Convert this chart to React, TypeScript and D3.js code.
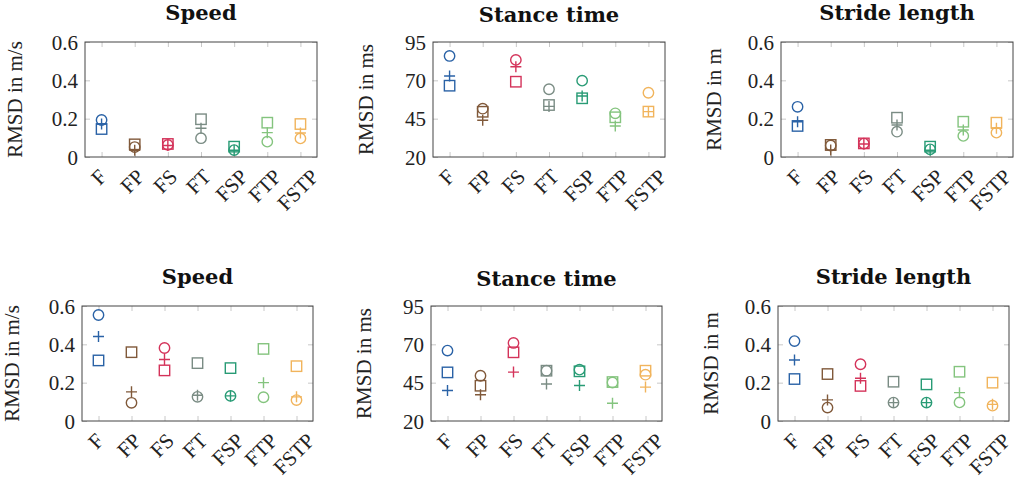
import { useEffect, useRef } from "react";
import * as d3 from "d3";

// categories on the x axis of every panel
const categories = ["F", "FP", "FS", "FT", "FSP", "FTP", "FSTP"];

// top row
const speedTopCircle = [0.193, 0.052, 0.063, 0.098, 0.036, 0.08, 0.097];
const speedTopPlus = [0.172, 0.035, 0.06, 0.15, 0.035, 0.127, 0.125];
const speedTopSquare = [0.146, 0.066, 0.068, 0.197, 0.054, 0.179, 0.172];

const stanceTopCircle = [85.9, 51.5, 83.3, 64.2, 69.8, 48.5, 61.9];
const stanceTopPlus = [72.8, 44.0, 78.9, 53.0, 59.8, 40.2, 49.6];
const stanceTopSquare = [66.5, 49.5, 69.1, 53.9, 58.3, 45.9, 49.6];

const strideTopCircle = [0.262, 0.06, 0.07, 0.132, 0.04, 0.11, 0.127];
const strideTopPlus = [0.184, 0.036, 0.068, 0.167, 0.035, 0.141, 0.15];
const strideTopSquare = [0.162, 0.063, 0.071, 0.205, 0.054, 0.184, 0.179];

// bottom row
const speedBottomCircle = [0.553, 0.095, 0.381, 0.126, 0.131, 0.124, 0.109];
const speedBottomPlus = [0.441, 0.152, 0.321, 0.134, 0.131, 0.2, 0.126];
const speedBottomSquare = [0.316, 0.359, 0.264, 0.302, 0.276, 0.376, 0.286];

const stanceBottomCircle = [65.9, 49.5, 70.9, 52.8, 53.5, 45.1, 50.2];
const stanceBottomPlus = [39.9, 37.1, 51.9, 44.1, 43.2, 31.6, 42.1];
const stanceBottomSquare = [51.7, 43.0, 64.8, 52.8, 52.4, 45.4, 52.8];

const strideBottomCircle = [0.417, 0.07, 0.296, 0.096, 0.096, 0.097, 0.08];
const strideBottomPlus = [0.318, 0.11, 0.223, 0.096, 0.096, 0.148, 0.087];
const strideBottomSquare = [0.219, 0.245, 0.183, 0.205, 0.191, 0.257, 0.2];

// y ticks
const metreTicks = [0, 0.2, 0.4, 0.6];
const msTicks = [20, 45, 70, 95];

// one colour per category
const colors = [
	"#2a62a6",
	"#80593a",
	"#d4335a",
	"#7a8c84",
	"#289b75",
	"#84c47e",
	"#f1b45c",
];

const W = 1017;
const H = 483;
const serif = "'Liberation Serif', 'Times New Roman', serif";
const titleFont = "'DejaVu Serif', serif";

interface Panel {
	title: string;
	ylabel: string;
	ticks: number[];
	circle: number[];
	plus: number[];
	square: number[];
	left: number;
	top: number;
	width: number;
	height: number;
}

const panels: Panel[] = [
	{ title: "Speed", ylabel: "RMSD in m/s", ticks: metreTicks, circle: speedTopCircle, plus: speedTopPlus, square: speedTopSquare, left: 85, top: 42, width: 232, height: 115 },
	{ title: "Stance time", ylabel: "RMSD in ms", ticks: msTicks, circle: stanceTopCircle, plus: stanceTopPlus, square: stanceTopSquare, left: 433, top: 42, width: 232, height: 115 },
	{ title: "Stride length", ylabel: "RMSD in m", ticks: metreTicks, circle: strideTopCircle, plus: strideTopPlus, square: strideTopSquare, left: 781, top: 42, width: 232, height: 115 },
	{ title: "Speed", ylabel: "RMSD in m/s", ticks: metreTicks, circle: speedBottomCircle, plus: speedBottomPlus, square: speedBottomSquare, left: 82, top: 306, width: 231, height: 115 },
	{ title: "Stance time", ylabel: "RMSD in ms", ticks: msTicks, circle: stanceBottomCircle, plus: stanceBottomPlus, square: stanceBottomSquare, left: 431, top: 306, width: 231, height: 115 },
	{ title: "Stride length", ylabel: "RMSD in m", ticks: metreTicks, circle: strideBottomCircle, plus: strideBottomPlus, square: strideBottomSquare, left: 778, top: 306, width: 231, height: 115 },
];

const hasDescender = (s: string) => /[gjpqy\/]/.test(s);

function drawPanel(svg: d3.Selection<SVGSVGElement, unknown, null, undefined>, p: Panel) {
	const x = d3
		.scaleLinear()
		.domain([-0.5, categories.length - 0.5])
		.range([p.left, p.left + p.width]);
	const y = d3
		.scaleLinear()
		.domain([p.ticks[0], p.ticks[p.ticks.length - 1]])
		.range([p.top + p.height, p.top]);

	const g = svg.append("g");
	const idx = categories.map((_, i) => i);
	const tickLen = 5;
	const tickColor = "#c8c8c8";

	// inward ticks on all four sides
	const left = g
		.append("g")
		.attr("transform", `translate(${p.left},0)`)
		.call(
			d3
				.axisLeft(y)
				.tickValues(p.ticks)
				.tickSize(-tickLen)
				.tickPadding(7)
				.tickFormat((d) => String(d)),
		);
	const right = g
		.append("g")
		.attr("transform", `translate(${p.left + p.width},0)`)
		.call(d3.axisRight(y).tickValues(p.ticks).tickSize(-tickLen).tickFormat(() => ""));
	const top = g
		.append("g")
		.attr("transform", `translate(0,${p.top})`)
		.call(d3.axisTop(x).tickValues(idx).tickSize(-tickLen).tickFormat(() => ""));
	const bottom = g
		.append("g")
		.attr("transform", `translate(0,${p.top + p.height})`)
		.call(d3.axisBottom(x).tickValues(idx).tickSize(-tickLen).tickFormat(() => ""));

	[left, right, top, bottom].forEach((a) => {
		a.select(".domain").remove();
		a.selectAll(".tick line").attr("stroke", tickColor).attr("stroke-width", 1);
	});
	left
		.selectAll(".tick text")
		.attr("font-family", serif)
		.attr("font-size", 21)
		.attr("fill", "#222")
		.attr("dy", "0.34em");
	left.attr("font-family", null).attr("font-size", null);

	// frame
	g.append("rect")
		.attr("x", p.left)
		.attr("y", p.top)
		.attr("width", p.width)
		.attr("height", p.height)
		.attr("fill", "none")
		.attr("stroke", "#444")
		.attr("stroke-width", 1);

	// rotated category labels, kept inside the page
	const labelTop = p.top + p.height + 11;
	g.selectAll("text.cat")
		.data(categories)
		.enter()
		.append("text")
		.attr("class", "cat")
		.attr("font-family", serif)
		.attr("font-size", 21)
		.attr("fill", "#222")
		.attr("text-anchor", "middle")
		.attr("dominant-baseline", "central")
		.text((d) => d)
		.each(function (_, i) {
			const el = this as SVGTextElement;
			const w = el.getComputedTextLength();
			const box = el.getBBox();
			const half = 0.354 * (w + box.height);
			const cx = Math.min(x(i) - 2.5, W - half - 1);
			const cy = labelTop + 0.354 * (w + 14);
			d3.select(this)
				.attr("x", cx)
				.attr("y", cy)
				.attr("transform", `rotate(-45,${cx},${cy})`);
		});

	// title
	g.append("text")
		.attr("x", p.left + p.width / 2)
		.attr("y", p.top - (hasDescender(p.title) ? 22.5 : 20))
		.attr("text-anchor", "middle")
		.attr("font-family", titleFont)
		.attr("font-weight", "bold")
		.attr("font-size", 21)
		.attr("fill", "#111")
		.text(p.title);

	// y label
	const bx = p.left - 60 - (hasDescender(p.ylabel) ? 3 : 0);
	const cy = p.top + p.height / 2;
	g.append("text")
		.attr("x", bx)
		.attr("y", cy)
		.attr("transform", `rotate(-90,${bx},${cy})`)
		.attr("text-anchor", "middle")
		.attr("font-family", serif)
		.attr("font-size", 21)
		.attr("fill", "#222")
		.text(p.ylabel);

	const marks = g.append("g").attr("fill", "none").attr("stroke-width", 1.4);

	marks
		.selectAll("circle")
		.data(p.circle)
		.enter()
		.append("circle")
		.attr("cx", (_, i) => x(i))
		.attr("cy", (d) => y(d))
		.attr("r", 5.2)
		.attr("stroke", (_, i) => colors[i]);

	const s = 10.4;
	marks
		.selectAll("rect")
		.data(p.square)
		.enter()
		.append("rect")
		.attr("x", (_, i) => x(i) - s / 2)
		.attr("y", (d) => y(d) - s / 2)
		.attr("width", s)
		.attr("height", s)
		.attr("stroke", (_, i) => colors[i]);

	const a = 5.5;
	marks
		.selectAll("path")
		.data(p.plus)
		.enter()
		.append("path")
		.attr("d", (d, i) => {
			const px = x(i);
			const py = y(d);
			return `M${px - a},${py}H${px + a}M${px},${py - a}V${py + a}`;
		})
		.attr("stroke", (_, i) => colors[i]);
}

export default function App() {
	const ref = useRef<SVGSVGElement>(null);

	useEffect(() => {
		if (!ref.current) return;
		const svg = d3.select(ref.current);
		svg.selectAll("*").remove();
		panels.forEach((p) => drawPanel(svg, p));
	}, []);

	return (
		<div style={{ position: "absolute", left: 0, top: 0, background: "#fff" }}>
			<svg ref={ref} width={W} height={H} style={{ display: "block" }} />
		</div>
	);
}
